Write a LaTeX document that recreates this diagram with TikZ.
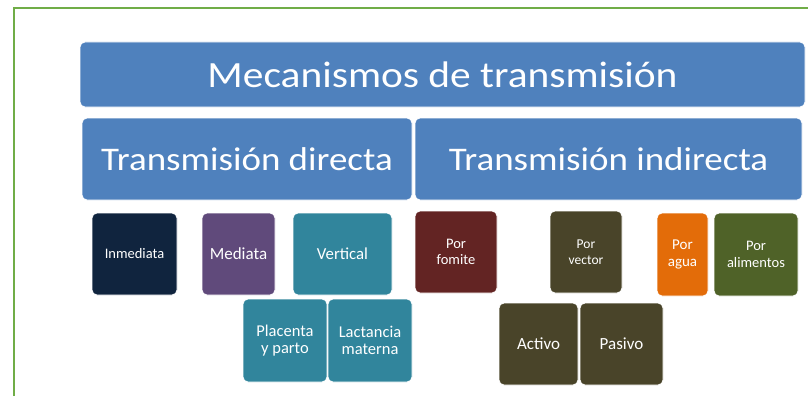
\documentclass[tikz,border=0pt]{standalone}
\usepackage{fontspec}
\setmainfont{Carlito}
\newfontfamily\widefont[FakeStretch=1.12]{Carlito}
\usepackage{tikz}
\usetikzlibrary{shapes}
\usetikzlibrary{shadows}
\usepackage{xcolor}

\definecolor{framegreen}{HTML}{70AD47}
\definecolor{headblue}{HTML}{4F81BD}
\definecolor{navy}{HTML}{10243E}
\definecolor{plum}{HTML}{604A7B}
\definecolor{teal}{HTML}{31859C}
\definecolor{maroon}{HTML}{632423}
\definecolor{olive}{HTML}{494429}
\definecolor{orange}{HTML}{E36C09}
\definecolor{leaf}{HTML}{4F6228}

\begin{document}
\begin{tikzpicture}[x=1pt,y=-1pt]
      \useasboundingbox (0,0) rectangle (808,396);
      \fill[white] (0,0) rectangle (808,396);
      \draw[framegreen,line width=2pt] (14,396) |- (808,8);

      \begin{scope}[shape=rectangle,rounded corners=5pt,draw=white,line width=0.8pt,text=white,align=center,
                    drop shadow={opacity=0.3,shadow xshift=1pt,shadow yshift=-1.5pt}]
          \tikzstyle{every node}=[draw,inner sep=2pt]
          \node[fill=headblue,minimum width=725pt,minimum height=65pt,font=\widefont\fontsize{37}{40}\selectfont] (mec) at (442.5,74.5) {Mecanismos de transmisión};
          \node[fill=headblue,minimum width=330pt,minimum height=82pt,font=\widefont\fontsize{33}{36}\selectfont] (dir) at (247,159) {Transmisión directa};
          \node[fill=headblue,minimum width=387pt,minimum height=82pt,font=\widefont\fontsize{33}{36}\selectfont] (ind) at (608.5,159) {Transmisión indirecta};
      \end{scope}

      \begin{scope}[shape=rectangle,rounded corners=5pt,draw=white,line width=0.8pt,text=white,align=center,
                    drop shadow={opacity=0.3,shadow xshift=1pt,shadow yshift=-1.5pt}]
          \tikzstyle{every node}=[draw,inner sep=1pt]
          \node[fill=navy,minimum width=85pt,minimum height=82pt,font=\fontsize{14.5}{16}\selectfont]   (inm) at (134.5,254) {Inmediata};
          \node[fill=plum,minimum width=73pt,minimum height=82pt,font=\fontsize{17}{17}\selectfont]     (med) at (238.5,254) {Mediata};
          \node[fill=teal,minimum width=99pt,minimum height=82pt,font=\fontsize{16.8}{17}\selectfont]   (ver) at (342.5,254) {Vertical};
          \node[fill=teal,minimum width=84pt,minimum height=83pt,font=\fontsize{16.5}{16.5}\selectfont] (pla) at (285,340.5) {Placenta\\y parto};
          \node[fill=teal,minimum width=84pt,minimum height=83pt,font=\fontsize{16.5}{16.5}\selectfont] (lac) at (370,340.5) {Lactancia\\materna};
          \node[fill=maroon,minimum width=82pt,minimum height=82pt,font=\fontsize{14.5}{16.5}\selectfont] (fom) at (456,252) {Por\\fomite};
          \node[fill=olive,minimum width=72pt,minimum height=82pt,font=\fontsize{13.5}{16.5}\selectfont]  (vec) at (586,252) {Por\\vector};
          \node[fill=orange,minimum width=51pt,minimum height=83pt,font=\fontsize{15}{16.5}\selectfont]   (agu) at (682.5,254.5) {Por\\agua};
          \node[fill=leaf,minimum width=84pt,minimum height=83pt,font=\fontsize{14.5}{16.5}\selectfont]   (ali) at (756,254.5) {Por\\alimentos};
          \node[fill=olive,minimum width=79pt,minimum height=82pt,font=\fontsize{17}{17}\selectfont]      (act) at (538.5,344) {Activo};
          \node[fill=olive,minimum width=83pt,minimum height=82pt,font=\fontsize{17}{17}\selectfont]      (pas) at (621.5,344) {Pasivo};
      \end{scope}
\end{tikzpicture}
\end{document}
